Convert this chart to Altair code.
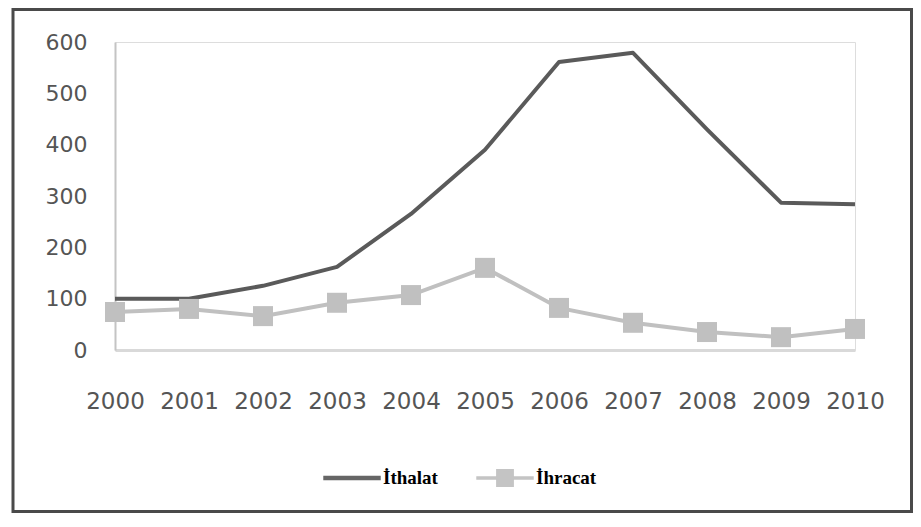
import altair as alt
import pandas as pd

years = [2000, 2001, 2002, 2003, 2004, 2005, 2006, 2007, 2008, 2009, 2010]
ithalat = [100, 100, 125, 162, 265, 390, 561, 579, 430, 287, 284]
ihracat = [74, 80, 66, 92, 107, 160, 82, 53, 35, 25, 41]
series_names = ["İthalat", "İhracat"]
y_ticks = [0, 100, 200, 300, 400, 500, 600]

df = pd.DataFrame({
    "Yıl": years * 2,
    "Değer": ithalat + ihracat,
    "Seri": [series_names[0]] * len(years) + [series_names[1]] * len(years),
})

base = alt.Chart(df)

x_enc = alt.X("Yıl:Q", scale=alt.Scale(domain=[2000, 2010], nice=False, zero=False),
              axis=alt.Axis(values=years, format="d", title=None, grid=False, ticks=False,
                            domainColor="#d9d9d9", domainWidth=3,
                            labelFont="DejaVu Sans", labelFontSize=23, labelColor="#555555",
                            labelPadding=40, labelFlush=False))
y_enc = alt.Y("Değer:Q", scale=alt.Scale(domain=[0, 600], nice=False),
              axis=alt.Axis(values=y_ticks, title=None, grid=False, ticks=False,
                            domainColor="#c4c4c4", domainWidth=2,
                            labelFont="DejaVu Sans", labelFontSize=22, labelColor="#555555",
                            labelPadding=28))

line_ith = base.transform_filter(alt.datum.Seri == series_names[0]).mark_line(
    color="#5a5a5a", strokeWidth=4, strokeJoin="round").encode(x=x_enc, y=y_enc)
line_ihr = base.transform_filter(alt.datum.Seri == series_names[1]).mark_line(
    color="#c0c0c0", strokeWidth=4).encode(x="Yıl:Q", y="Değer:Q")
pts_ihr = base.transform_filter(alt.datum.Seri == series_names[1]).mark_square(
    color="#c0c0c0", size=400, opacity=1).encode(x="Yıl:Q", y="Değer:Q")

# legend-only layer (no rows drawn)
shape_ith = "M-1,-0.08H1V0.08H-1Z"
shape_ihr = "M-1,-0.06H-0.31V-0.31H0.31V-0.06H1V0.06H0.31V0.31H-0.31V0.06H-1Z"
legend_props = dict(title=None, orient="none", direction="horizontal",
                    legendX=208, legendY=407, symbolSize=3300,
                    labelFont="Liberation Serif", labelFontWeight="bold",
                    labelFontSize=19, labelColor="#000000", labelOffset=2,
                    columnPadding=38, symbolOpacity=1, symbolStrokeWidth=0)
legend_layer = base.transform_filter("false").mark_point(filled=True, size=3300, opacity=1).encode(
    x="Yıl:Q", y="Değer:Q",
    fill=alt.Fill("Seri:N", scale=alt.Scale(domain=series_names, range=["#666666", "#c4c4c4"]),
                  legend=alt.Legend(**legend_props)),
    shape=alt.Shape("Seri:N", scale=alt.Scale(domain=series_names, range=[shape_ith, shape_ihr]),
                    legend=alt.Legend(**legend_props)),
)

frame = alt.Chart(pd.DataFrame({"k": [0]})).mark_rect(
    fill="transparent", stroke="#4a4a4a", strokeWidth=3).encode(
    x=alt.value(-102), x2=alt.value(796.5), y=alt.value(-32.5), y2=alt.value(469.5))

chart = alt.layer(line_ith, line_ihr, pts_ihr, legend_layer, frame).properties(
    width=740, height=308,
    autosize=alt.AutoSizeParams(type="none"),
    padding={"left": 107, "top": 34, "right": 58, "bottom": 163},
).configure_view(stroke=None).configure(background="white")

chart.save("out.html", embed_options={"renderer": "svg", "actions": False})
